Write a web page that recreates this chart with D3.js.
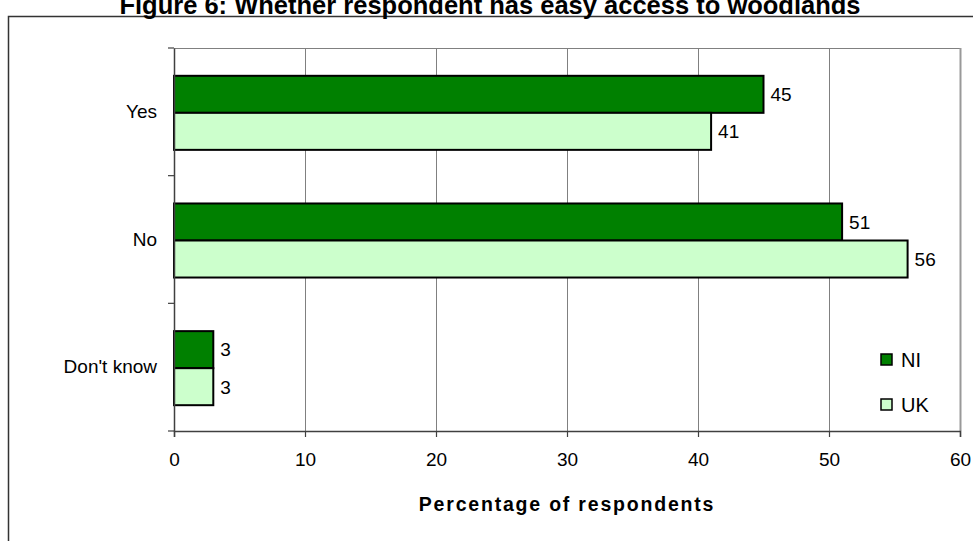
<!DOCTYPE html>
<html>
<head>
<meta charset="utf-8">
<script src="https://cdn.jsdelivr.net/npm/d3@7"></script>
<style>
  html, body { margin: 0; padding: 0; background: #fff; }
  svg { display: block; font-family: "Liberation Sans", Arial, sans-serif; }
</style>
</head>
<body>
<svg id="chart" width="973" height="541"></svg>
<script>
const categories = ["Yes", "No", "Don't know"];
const seriesNames = ["NI", "UK"];
const niValues = [45, 51, 3];
const ukValues = [41, 56, 3];
const xTicks = [0, 10, 20, 30, 40, 50, 60];
const colors = { NI: "#008000", UK: "#ccffcc" };

const data = categories.map((c, i) => ({ cat: c, NI: niValues[i], UK: ukValues[i] }));

const svg = d3.select("#chart");
const plot = { left: 174, right: 960, top: 48, bottom: 431 };
const FS = 19;

// outer frame
svg.append("rect")
  .attr("x", 8.5).attr("y", 16.5)
  .attr("width", 1000).attr("height", 600)
  .attr("fill", "none").attr("stroke", "#333").attr("stroke-width", 1.5);

// title
svg.append("text")
  .attr("x", 490).attr("y", 14)
  .attr("text-anchor", "middle")
  .attr("font-weight", "bold").attr("font-size", 25.5)
  .text("Figure 6:  Whether respondent has easy access to woodlands");

const x = d3.scaleLinear().domain([0, 60]).range([plot.left, plot.right]);
const y = d3.scaleBand().domain(categories).range([plot.top, plot.bottom]).padding(0);
const groupH = y.bandwidth() * 0.58;
const y1 = d3.scaleBand().domain(seriesNames).range([0, groupH]).padding(0);
const groupOffset = (y.bandwidth() - groupH) / 2 + 1;

// gridlines
svg.append("g").selectAll("line")
  .data(xTicks.filter(t => t > 0))
  .join("line")
  .attr("x1", d => x(d) + 0.5).attr("x2", d => x(d) + 0.5)
  .attr("y1", plot.top).attr("y2", plot.bottom)
  .attr("stroke", "#808080").attr("stroke-width", 1);

// plot area border (top, right)
svg.append("line")
  .attr("x1", plot.left).attr("x2", plot.right + 1)
  .attr("y1", plot.top + 0.5).attr("y2", plot.top + 0.5)
  .attr("stroke", "#808080").attr("stroke-width", 1);
svg.append("line")
  .attr("x1", plot.right + 0.5).attr("x2", plot.right + 0.5)
  .attr("y1", plot.top).attr("y2", plot.bottom)
  .attr("stroke", "#999").attr("stroke-width", 2);

// bars
const groups = svg.append("g").selectAll("g")
  .data(data)
  .join("g")
  .attr("transform", d => `translate(0,${y(d.cat) + groupOffset})`);

groups.selectAll("rect")
  .data(d => seriesNames.map(s => ({ s, v: d[s] })))
  .join("rect")
  .attr("x", x(0))
  .attr("y", d => y1(d.s))
  .attr("width", d => x(d.v) - x(0))
  .attr("height", y1.bandwidth())
  .attr("fill", d => colors[d.s])
  .attr("stroke", "#000").attr("stroke-width", 2);

groups.selectAll("text")
  .data(d => seriesNames.map(s => ({ s, v: d[s] })))
  .join("text")
  .attr("x", d => x(d.v) + 7)
  .attr("y", d => y1(d.s) + y1.bandwidth() / 2)
  .attr("dy", "0.36em")
  .attr("font-size", FS)
  .text(d => d.v);

// x axis
const xAxis = svg.append("g")
  .attr("transform", `translate(0,${plot.bottom})`)
  .call(d3.axisBottom(x).tickValues(xTicks).tickSize(6).tickPadding(16));
xAxis.select(".domain").attr("stroke", "#404040").attr("stroke-width", 1.5);
xAxis.selectAll(".tick line").attr("stroke", "#404040").attr("stroke-width", 1.2);
xAxis.selectAll(".tick text").attr("font-size", FS).attr("fill", "#000")
  .attr("font-family", "Liberation Sans, Arial, sans-serif");

// y axis
const yAxis = svg.append("g")
  .attr("transform", `translate(${plot.left},0)`)
  .call(d3.axisLeft(y).tickSize(0).tickPadding(17));
yAxis.select(".domain").attr("stroke", "#404040").attr("stroke-width", 1.5);
yAxis.selectAll(".tick text").attr("font-size", FS).attr("fill", "#000")
  .attr("font-family", "Liberation Sans, Arial, sans-serif");

// y ticks at band boundaries
const boundaries = categories.map(c => y(c)).concat([plot.bottom]);
svg.append("g").selectAll("line")
  .data(boundaries)
  .join("line")
  .attr("x1", plot.left - 6).attr("x2", plot.left)
  .attr("y1", d => d).attr("y2", d => d)
  .attr("stroke", "#404040").attr("stroke-width", 1.2);

// axis title
svg.append("text")
  .attr("x", (plot.left + plot.right) / 2).attr("y", 511)
  .attr("text-anchor", "middle")
  .attr("font-weight", "bold").attr("font-size", 19.5)
  .attr("letter-spacing", 1.8)
  .text("Percentage of respondents");

// legend
const legend = svg.append("g").selectAll("g")
  .data(seriesNames)
  .join("g")
  .attr("transform", (d, i) => `translate(881,${354 + i * 45})`);
legend.append("rect")
  .attr("width", 11).attr("height", 11)
  .attr("fill", d => colors[d])
  .attr("stroke", "#000").attr("stroke-width", 1.5);
legend.append("text")
  .attr("x", 20).attr("y", 12.5)
  .attr("font-size", 20)
  .text(d => d);
</script>
</body>
</html>
